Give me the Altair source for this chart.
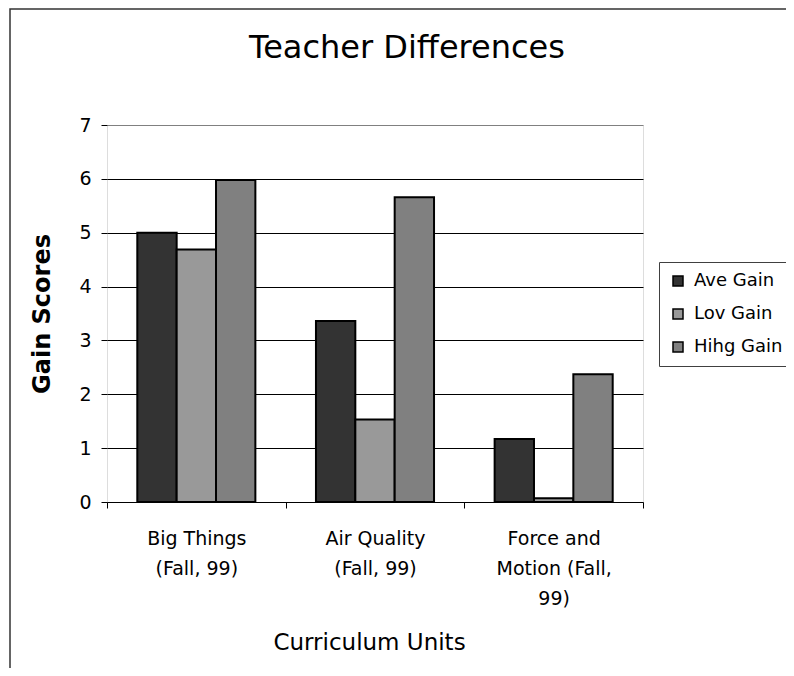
import altair as alt
import pandas as pd

categories = ["Big Things\n(Fall, 99)", "Air Quality\n(Fall, 99)", "Force and\nMotion (Fall,\n99)"]
series = ["Ave Gain", "Lov Gain", "Hihg Gain"]
ave_gain = [5.0, 3.36, 1.17]
lov_gain = [4.69, 1.53, 0.07]
high_gain = [5.98, 5.66, 2.37]
colors = ["#333333", "#999999", "#808080"]
y_ticks = [0, 1, 2, 3, 4, 5, 6, 7]

rows = []
for i, c in enumerate(categories):
    for s, vals in zip(series, [ave_gain, lov_gain, high_gain]):
        rows.append({"unit": c, "series": s, "gain": vals[i]})
df = pd.DataFrame(rows)

FONT = "DejaVu Sans"

bars = alt.Chart(df).mark_bar(stroke="black", strokeWidth=2, opacity=1).encode(
    x=alt.X(
        "unit:N",
        sort=categories,
        scale=alt.Scale(paddingInner=0, paddingOuter=0),
        axis=alt.Axis(
            title="Curriculum Units",
            labelAngle=0,
            labelExpr="split(datum.label, '\\n')",
            tickBand="extent",
            labelFont=FONT,
            labelFontSize=19,
            labelColor="black",
            labelPadding=21,
            labelLineHeight=30,
            tickColor="black",
            tickSize=6,
            domainColor="black",
            domainWidth=1,
            titleFont=FONT,
            titleFontSize=23,
            titleFontWeight="normal",
            titleColor="black",
            titleY=140,
            titleX=262,
            titleBaseline="middle",
        ),
    ),
    xOffset=alt.XOffset(
        "series:N",
        sort=series,
        scale=alt.Scale(paddingInner=0, paddingOuter=0.77),
    ),
    y=alt.Y(
        "gain:Q",
        scale=alt.Scale(domain=[0, 7], nice=False),
        axis=alt.Axis(
            values=y_ticks,
            title="Gain Scores",
            labelFont=FONT,
            labelFontSize=19,
            labelColor="black",
            labelPadding=10,
            tickColor="black",
            tickSize=6,
            domain=False,
            grid=True,
            gridColor=alt.condition("datum.value == 7 || datum.value == 0", alt.value("#808080"), alt.value("black")),
            gridWidth=1,
            titleFont=FONT,
            titleFontSize=24,
            titleFontWeight="bold",
            titleColor="black",
            titleX=-65,
            titleAlign="center",
            titleBaseline="middle",
        ),
    ),
    color=alt.Color(
        "series:N",
        sort=series,
        scale=alt.Scale(domain=series, range=colors),
        legend=alt.Legend(
            title=None,
            orient="none",
            legendX=552,
            legendY=137,
            direction="vertical",
            fillColor="white",
            strokeColor="#404040",
            padding=10,
            symbolType="square",
            symbolSize=100,
            symbolStrokeColor="black",
            symbolStrokeWidth=1.5,
            symbolOpacity=1,
            labelFont=FONT,
            labelFontSize=18,
            labelColor="black",
            labelOffset=7,
            rowPadding=15,
        ),
    ),
)

frame = alt.Chart(pd.DataFrame({"k": [0]})).mark_rect(
    fill=None, stroke="#333333", strokeWidth=1.5
).encode(
    x=alt.value(-97),
    x2=alt.value(720),
    y=alt.value(-116),
    y2=alt.value(620),
)

chart = alt.layer(frame, bars).properties(
    width=536,
    height=377,
    padding={"left": 99, "top": 117, "right": 143, "bottom": 166},
    autosize=alt.AutoSizeParams(type="none"),
    title=alt.TitleParams(
        "Teacher Differences",
        font=FONT,
        fontSize=32,
        fontWeight="normal",
        color="black",
        anchor="middle",
        baseline="alphabetic",
        dx=32,
        dy=82,
        offset=0,
    ),
).configure_view(
    fill="#C0C0C0", stroke="#808080", strokeWidth=2
).configure(background="white")

chart.save("out.html", embed_options={"renderer": "svg", "actions": False})
